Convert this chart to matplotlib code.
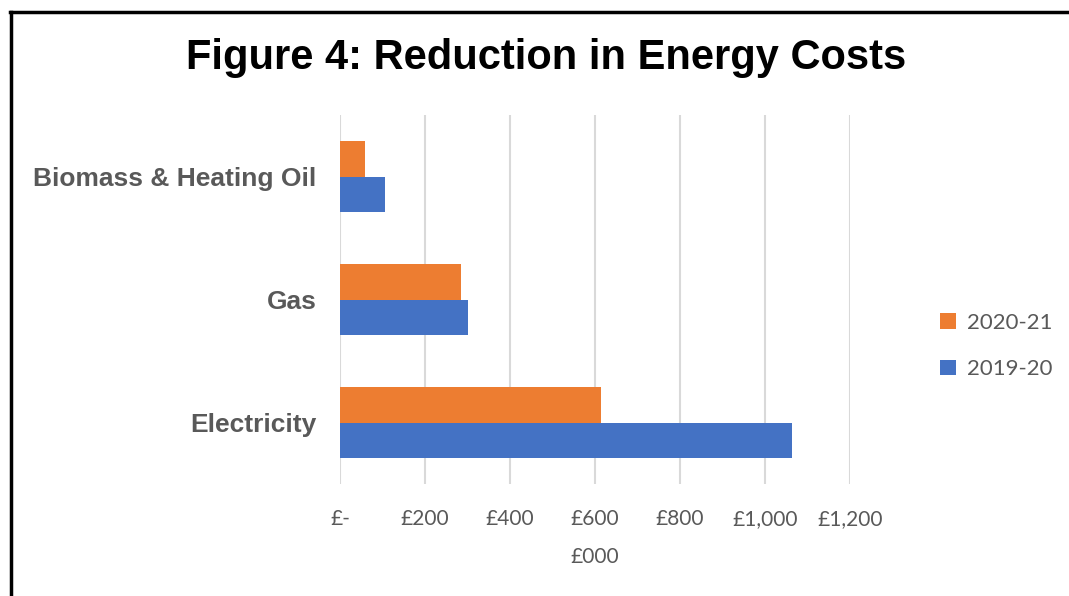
import matplotlib
matplotlib.use("Agg")
import matplotlib.pyplot as plt
import numpy as np

categories = ["Electricity", "Gas", "Biomass & Heating Oil"]
series_names = ["2020-21", "2019-20"]
values_2020_21 = [614, 285, 59]
values_2019_20 = [1064, 301, 106]
tick_values = [0, 200, 400, 600, 800, 1000, 1200]
tick_labels = ["£-", "£200", "£400", "£600", "£800", "£1,000", "£1,200"]

W, H = 1069, 596
fig = plt.figure(figsize=(W/100, H/100), dpi=100)
fig.patch.set_facecolor("white")

ax = fig.add_axes([340/W, 1-484/H, (850-340)/W, (484-115)/H])
y = np.arange(len(categories))
h = 0.29
ax.barh(y + h/2, values_2020_21, height=h, color="#ED7D31", label=series_names[0], zorder=3)
ax.barh(y - h/2, values_2019_20, height=h, color="#4472C4", label=series_names[1], zorder=3)

ax.set_xlim(0, 1200)
ax.set_ylim(-0.5, 2.5)
ax.set_xticks(tick_values)
ax.set_xticklabels(tick_labels, fontfamily="Lato", fontsize=15, color="#595959")
ax.set_yticks(y)
ax.set_yticklabels(categories, fontfamily="Liberation Sans", fontweight="bold", fontsize=19, color="#595959")
ax.tick_params(axis="x", length=0, pad=18)
ax.tick_params(axis="y", length=0, pad=17)
ax.grid(axis="x", color="#D9D9D9", linewidth=1.5, zorder=0)
for s in ax.spines.values():
    s.set_visible(False)
ax.set_xlabel("£000", fontfamily="Lato", fontsize=15, color="#595959", labelpad=13)

fig.text(546/W, 1-58/H, "Figure 4: Reduction in Energy Costs", ha="center", va="center",
         fontfamily="Liberation Sans", fontweight="bold", fontsize=30, color="black")

leg = ax.legend(loc="center left", bbox_to_anchor=(920/W, 1-346/H), bbox_transform=fig.transFigure,
                frameon=False, prop={"family": "Lato", "size": 16}, handlelength=0.7, handleheight=0.7,
                handletextpad=0.5, labelspacing=1.2)
for t in leg.get_texts():
    t.set_color("#595959")

# border lines (top and left)
fig.add_artist(plt.Line2D([10/W, 1], [1-12/H, 1-12/H], color="black", linewidth=2.5, transform=fig.transFigure))
fig.add_artist(plt.Line2D([11/W, 11/W], [0, 1-12/H], color="black", linewidth=2.5, transform=fig.transFigure))

fig.savefig("out.png", dpi=100)
